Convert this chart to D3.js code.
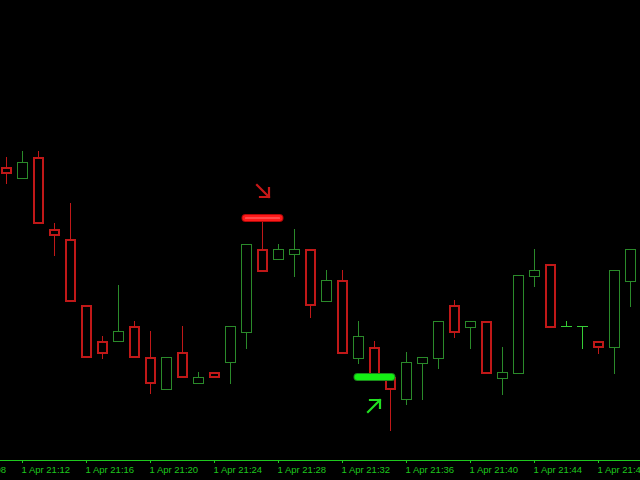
<!DOCTYPE html>
<html>
<head>
<meta charset="utf-8">
<script src="https://cdn.jsdelivr.net/npm/d3@7"></script>
<style>
  html, body { margin: 0; padding: 0; background: #000; overflow: hidden; }
  svg { display: block; }
</style>
</head>
<body>
<svg id="chart" width="640" height="480"></svg>
<script>
// ---- data ----
const startTime = new Date(2024, 3, 1, 21, 11);
const opens  = [1.08333,1.08322,1.08343,1.08271,1.08261,1.08195,1.08159,1.08159,1.08174,1.08143,
                1.08111,1.08148,1.08117,1.08128,1.08138,1.08168,1.08251,1.08241,1.08246,1.08251,
                1.08199,1.08220,1.08142,1.08153,1.08123,1.08101,1.08137,1.08142,1.08195,1.08173,
                1.08179,1.08122,1.08127,1.08224,1.08236,1.08174,1.08174,1.08159,1.08153,1.08219];
const highs  = [1.08343,1.08349,1.08349,1.08277,1.08297,1.08195,1.08164,1.08215,1.08179,1.08169,
                1.08143,1.08174,1.08128,1.08128,1.08174,1.08256,1.08283,1.08256,1.08271,1.08251,
                1.08230,1.08230,1.08179,1.08159,1.08123,1.08148,1.08143,1.08179,1.08200,1.08179,
                1.08179,1.08153,1.08225,1.08251,1.08236,1.08179,1.08174,1.08159,1.08230,1.08251];
const lows   = [1.08317,1.08322,1.08277,1.08245,1.08199,1.08143,1.08142,1.08159,1.08143,1.08107,
                1.08111,1.08123,1.08117,1.08123,1.08117,1.08152,1.08229,1.08241,1.08224,1.08183,
                1.08199,1.08147,1.08137,1.08124,1.08070,1.08096,1.08101,1.08132,1.08163,1.08152,
                1.08127,1.08106,1.08127,1.08214,1.08173,1.08174,1.08152,1.08147,1.08127,1.08194];
const closes = [1.08327,1.08338,1.08277,1.08265,1.08199,1.08143,1.08147,1.08169,1.08143,1.08117,
                1.08143,1.08123,1.08123,1.08123,1.08174,1.08256,1.08229,1.08251,1.08251,1.08195,
                1.08220,1.08147,1.08164,1.08124,1.08111,1.08138,1.08143,1.08179,1.08168,1.08179,
                1.08127,1.08128,1.08225,1.08230,1.08173,1.08174,1.08174,1.08153,1.08230,1.08251];
// horizontal signal levels
const levelFrom  = [15, 22];
const levelTo    = [17, 24];
const levelPrice = [1.08282, 1.08123];
const levelKind  = ["sell", "buy"];
// arrows: candle index, tip price, kind
const arrowIndex = [16, 23];
const arrowPrice = [1.08303, 1.08100];
const arrowKind  = ["sell", "buy"];
// axis tick labels
const tickTimes = [
  new Date(2024,3,1,21,8), new Date(2024,3,1,21,12), new Date(2024,3,1,21,16),
  new Date(2024,3,1,21,20), new Date(2024,3,1,21,24), new Date(2024,3,1,21,28),
  new Date(2024,3,1,21,32), new Date(2024,3,1,21,36), new Date(2024,3,1,21,40),
  new Date(2024,3,1,21,44), new Date(2024,3,1,21,48)
];

// ---- styles ----
const BULL = "#2a8a2a", BEAR = "#c01818", DOJI = "#36cc36", AXIS = "#1ec81e";

const times = opens.map((_, i) => new Date(startTime.getTime() + i * 60000));
const candles = opens.map((o, i) => ({ t: times[i], o, h: highs[i], l: lows[i], c: closes[i] }));

const svg = d3.select("#chart");
svg.append("rect").attr("width", 640).attr("height", 480).attr("fill", "#000");

const x = d3.scaleTime().domain([times[0], times[times.length - 1]]).range([6, 630]);
const y = d3.scaleLinear().domain([1.08500, 1.08020]).range([0, 480]);

const px = d => Math.round(x(d));
const py = v => Math.round(y(v));

const g = svg.append("g").attr("shape-rendering", "crispEdges");
function box(x0, y0, w, h, c) {
  g.append("rect").attr("x", x0).attr("y", y0).attr("width", w).attr("height", h).attr("fill", c);
}

candles.forEach(d => {
  const cx = px(d.t);
  const yo = py(d.o), yc = py(d.c), yh = py(d.h), yl = py(d.l);
  if (yo === yc) {
    box(cx, yh, 1, yl - yh + 1, DOJI);
    box(cx - 5, yc, 11, 1, DOJI);
    return;
  }
  const bull = d.c > d.o;
  const col = bull ? BULL : BEAR;
  const bw = bull ? 1 : 2;
  const top = Math.min(yo, yc), bot = Math.max(yo, yc);
  if (yh < top) box(cx, yh, 1, top - yh, col);
  if (yl > bot) box(cx, bot + 1, 1, yl - bot, col);
  box(cx - 5, top, 11, bot - top + 1, col);
  if (bot - top + 1 > 2 * bw) box(cx - 5 + bw, top + bw, 11 - 2 * bw, bot - top + 1 - 2 * bw, "#000");
});

// levels
const lv = svg.append("g");
levelPrice.forEach((p, i) => {
  const x1 = x(times[levelFrom[i]]) - 0.5, x2 = x(times[levelTo[i]]) + 1.5;
  const yy = Math.round(y(p));
  const sell = levelKind[i] === "sell";
  const layers = sell
    ? [[8, "#b00808"], [6, "#ff1a1a"], [1.2, "#ff7a7a"]]
    : [[8, "#1a8a1a"], [6, "#14f014"]];
  layers.forEach(([w, c]) => {
    lv.append("line").attr("x1", x1).attr("x2", x2).attr("y1", yy).attr("y2", yy)
      .attr("stroke", c).attr("stroke-width", w).attr("stroke-linecap", "round");
  });
});

// arrows
const ar = svg.append("g");
arrowPrice.forEach((p, i) => {
  const tx = x(times[arrowIndex[i]]);
  const sell = arrowKind[i] === "sell";
  const col = sell ? "#c81818" : "#22e022";
  let path;
  if (sell) {
    const X = tx + 7, Y = Math.round(y(p));
    path = `M${X - 12},${Y - 12}L${X},${Y}M${X - 9},${Y}L${X},${Y}L${X},${Y - 9}`;
  } else {
    const X = tx + 6, Y = Math.round(y(p));
    path = `M${X - 12},${Y + 12}L${X},${Y}M${X - 10},${Y}L${X},${Y}L${X},${Y + 8}`;
  }
  ar.append("path").attr("d", path).attr("fill", "none").attr("stroke", col)
    .attr("stroke-width", 2.2).attr("stroke-linecap", "square");
});

// axis
const fmt = d3.timeFormat("%H:%M");
const axis = d3.axisBottom(x).tickValues(tickTimes).tickSize(3)
  .tickFormat(d => "1 Apr " + fmt(d));
const ax = svg.append("g").attr("transform", "translate(0,460)").call(axis);
ax.select(".domain").remove();
ax.selectAll(".tick line").attr("stroke", AXIS);
ax.selectAll(".tick text").attr("fill", AXIS).attr("text-anchor", "start")
  .attr("x", -1).attr("y", 13).attr("dy", null)
  .style("font-family", "'Liberation Sans', Arial, sans-serif").style("font-size", "9.5px");
ax.append("line").attr("x1", 0).attr("x2", 640).attr("y1", 0.5).attr("y2", 0.5)
  .attr("stroke", AXIS).attr("shape-rendering", "crispEdges");
</script>
</body>
</html>
